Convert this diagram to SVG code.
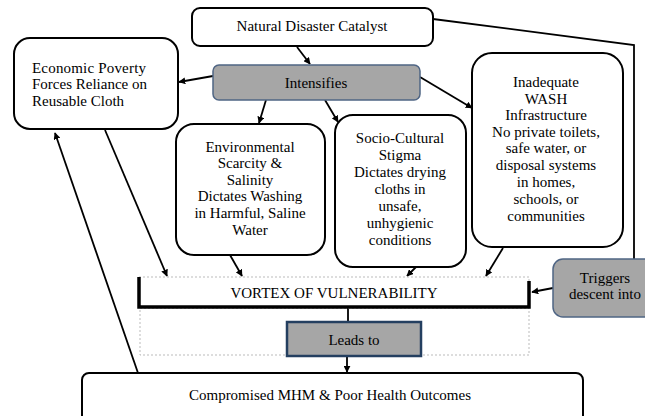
<svg xmlns="http://www.w3.org/2000/svg" width="645" height="416" viewBox="0 0 645 416">
<style>
.box{fill:#fff;stroke:#000;stroke-width:2}
.gray{fill:#a6a6a6;stroke:#4f6584;stroke-width:1.5}
.t{font-family:"Liberation Serif","Times New Roman","DejaVu Serif",serif;font-size:15px;fill:#000}
.c{text-anchor:middle}
.ln{stroke:#000;stroke-width:1.8;fill:none}
.dash{fill:none;stroke:#bbb;stroke-width:1;stroke-dasharray:2,2}
</style>
<defs>
<marker id="ah" viewBox="0 0 10 10" refX="9" refY="5" markerWidth="7" markerHeight="7" markerUnits="userSpaceOnUse" orient="auto">
<path d="M0,0 L10,5 L0,10 z" fill="#000"/>
</marker>
</defs>
<rect width="645" height="416" fill="#fff"/>
<g id="connectors">
<line class="ln" x1="297" y1="47" x2="310" y2="64" marker-end="url(#ah)"/>
<line class="ln" x1="213" y1="76" x2="179" y2="82" marker-end="url(#ah)"/>
<line class="ln" x1="266" y1="100" x2="259" y2="123" marker-end="url(#ah)"/>
<line class="ln" x1="325" y1="100" x2="338" y2="122" marker-end="url(#ah)"/>
<line class="ln" x1="420" y1="77" x2="472" y2="108" marker-end="url(#ah)"/>
<polyline class="ln" points="433,19 634,45 634,259"/>
<line class="ln" x1="105" y1="130" x2="167" y2="276" marker-end="url(#ah)"/>
<line class="ln" x1="138" y1="373" x2="55" y2="133" marker-end="url(#ah)"/>
<line class="ln" x1="230" y1="255" x2="242" y2="276" marker-end="url(#ah)"/>
<line class="ln" x1="417" y1="266" x2="407" y2="276" marker-end="url(#ah)"/>
<line class="ln" x1="503" y1="248" x2="486" y2="276" marker-end="url(#ah)"/>
<line class="ln" x1="553" y1="288" x2="532" y2="292" marker-end="url(#ah)"/>
<line class="ln" x1="348" y1="308" x2="348" y2="322"/>
<line class="ln" x1="347" y1="357" x2="347" y2="372" marker-end="url(#ah)"/>
</g>
<g id="natural">
<rect class="box" x="192" y="8" width="241" height="38" rx="8"/>
<text class="t c" x="312" y="31">Natural Disaster Catalyst</text>
</g>
<g id="economic">
<rect class="box" x="14" y="38" width="164" height="91" rx="16"/>
<text class="t" x="32" y="73" textLength="114" lengthAdjust="spacing">Economic Poverty</text>
<text class="t" x="32" y="89">Forces Reliance on</text>
<text class="t" x="32" y="106">Reusable Cloth</text>
</g>
<g id="intensifies">
<rect class="gray" x="213" y="65" width="207" height="35" rx="6"/>
<text class="t c" x="316" y="88">Intensifies</text>
</g>
<g id="environmental">
<rect class="box" x="176" y="124" width="149" height="131" rx="18"/>
<text class="t c" x="250" y="152">Environmental</text>
<text class="t c" x="250" y="168">Scarcity &amp;</text>
<text class="t c" x="250" y="185">Salinity</text>
<text class="t c" x="250" y="201">Dictates Washing</text>
<text class="t c" x="250" y="218">in Harmful, Saline</text>
<text class="t c" x="250" y="235">Water</text>
</g>
<g id="socio">
<rect class="box" x="335" y="115" width="131" height="152" rx="18"/>
<text class="t c" x="400" y="143">Socio-Cultural</text>
<text class="t c" x="400" y="160">Stigma</text>
<text class="t c" x="400" y="177">Dictates drying</text>
<text class="t c" x="400" y="194">cloths in</text>
<text class="t c" x="400" y="211">unsafe,</text>
<text class="t c" x="400" y="228">unhygienic</text>
<text class="t c" x="400" y="245">conditions</text>
</g>
<g id="wash">
<rect class="box" x="472" y="53" width="151" height="194" rx="20"/>
<text class="t c" x="546" y="87">Inadequate</text>
<text class="t c" x="546" y="104">WASH</text>
<text class="t c" x="546" y="120">Infrastructure</text>
<text class="t c" x="546" y="137">No private toilets,</text>
<text class="t c" x="546" y="153">safe water, or</text>
<text class="t c" x="546" y="170">disposal systems</text>
<text class="t c" x="546" y="187">in homes,</text>
<text class="t c" x="546" y="204">schools, or</text>
<text class="t c" x="546" y="221">communities</text>
</g>
<g id="triggers">
<rect class="gray" x="553" y="259" width="105" height="58" rx="10"/>
<text class="t c" x="605" y="283">Triggers</text>
<text class="t c" x="605" y="299">descent into</text>
</g>
<g id="vortex">
<rect class="dash" x="139" y="277" width="390" height="31"/>
<rect class="dash" x="140" y="308" width="389" height="47"/>
<polyline points="139,277 139,307 529,307 529,281" fill="none" stroke="#000" stroke-width="3.5"/>
<text class="t c" x="334" y="298">VORTEX OF VULNERABILITY</text>
</g>
<g id="leads">
<rect x="287" y="322" width="134" height="34" fill="#a6a6a6" stroke="#243f60" stroke-width="2.5"/>
<text class="t c" x="354" y="345">Leads to</text>
</g>
<g id="compromised">
<rect class="box" x="82" y="373" width="501" height="50" rx="7"/>
<text class="t c" x="330" y="400">Compromised MHM &amp; Poor Health Outcomes</text>
</g>
</svg>
